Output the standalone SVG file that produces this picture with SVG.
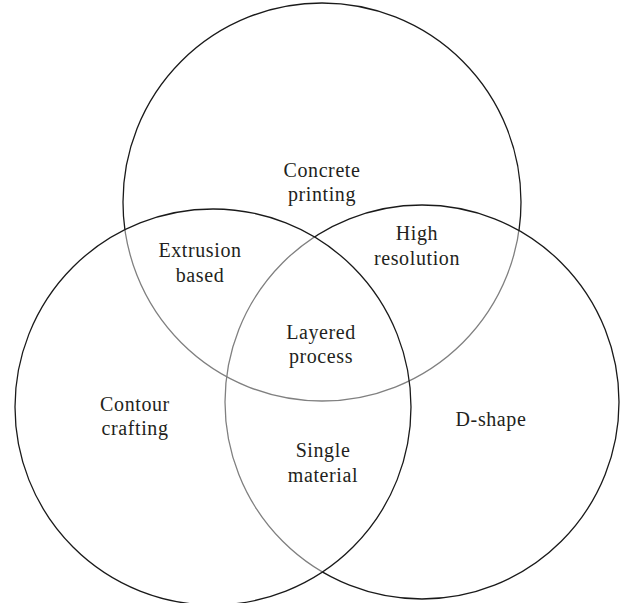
<svg xmlns="http://www.w3.org/2000/svg" width="620" height="603" viewBox="0 0 620 603">
<style>
.c{fill:none;stroke-width:1.3}
.k{stroke:#1a1a1a}
.g{stroke:#808080}
text{font-family:"Liberation Serif","Times New Roman",serif;font-size:20px;fill:#231f20;text-anchor:middle;letter-spacing:0.6px}
</style>
<defs>
<clipPath id="inL"><circle cx="213" cy="407" r="198"/></clipPath>
<clipPath id="inLR"><circle cx="213" cy="407" r="198"/><circle cx="422" cy="402" r="197"/></clipPath>
<mask id="outL"><rect width="620" height="603" fill="#fff"/><circle cx="213" cy="407" r="198" fill="#000"/></mask>
<mask id="outLR"><rect width="620" height="603" fill="#fff"/><circle cx="213" cy="407" r="198" fill="#000"/><circle cx="422" cy="402" r="197" fill="#000"/></mask>
</defs>
<rect width="620" height="603" fill="#fff"/>
<g id="top-circle">
<circle class="c k" cx="322" cy="202" r="199" mask="url(#outLR)"/>
<circle class="c g" cx="322" cy="202" r="199" clip-path="url(#inLR)"/>
</g>
<g id="right-circle">
<circle class="c k" cx="422" cy="402" r="197" mask="url(#outL)"/>
<circle class="c g" cx="422" cy="402" r="197" clip-path="url(#inL)"/>
</g>
<g id="left-circle">
<circle class="c k" cx="213" cy="407" r="198"/>
</g>
<g id="labels">
<g id="concrete-printing"><text x="322" y="177">Concrete</text><text x="322" y="201">printing</text></g>
<g id="extrusion-based"><text x="200" y="257">Extrusion</text><text x="200" y="282">based</text></g>
<g id="high-resolution"><text x="417" y="240">High</text><text x="417" y="265">resolution</text></g>
<g id="layered-process"><text x="321" y="339">Layered</text><text x="321" y="363">process</text></g>
<g id="contour-crafting"><text x="135" y="411">Contour</text><text x="135" y="435">crafting</text></g>
<g id="single-material"><text x="323" y="457">Single</text><text x="323" y="482">material</text></g>
<g id="d-shape"><text x="491" y="426">D-shape</text></g>
</g>
</svg>
